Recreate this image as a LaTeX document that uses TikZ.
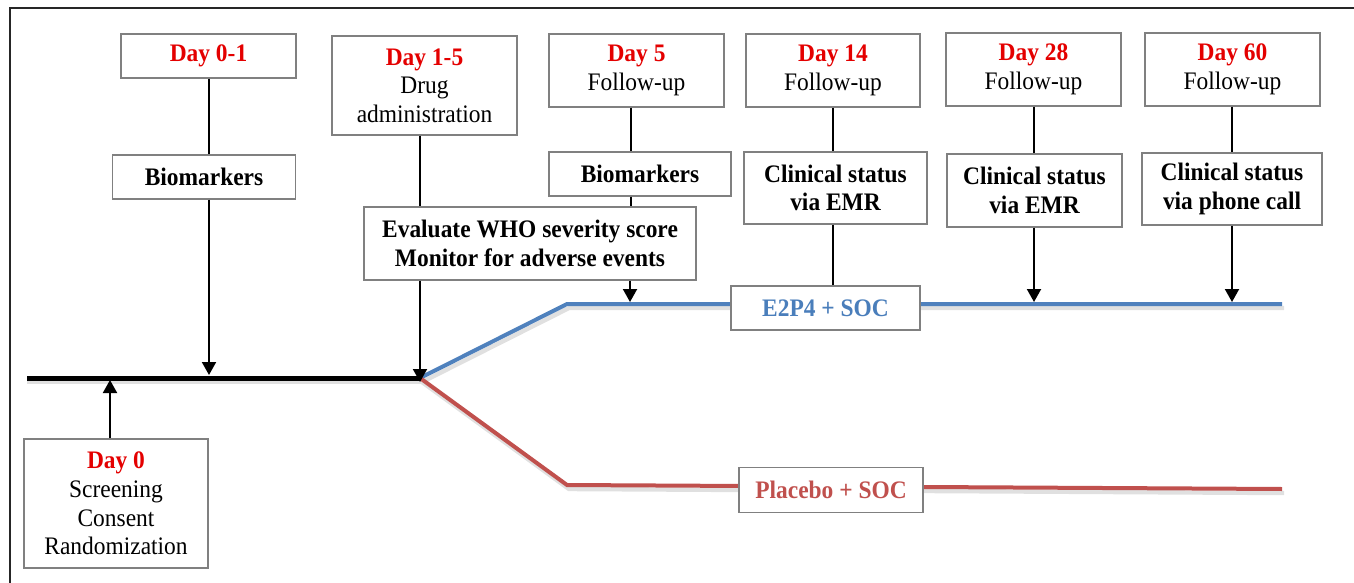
\documentclass[tikz,border=0pt]{standalone}
\usepackage{fontspec}
\setmainfont{Liberation Serif}[FakeStretch=0.93]
\usetikzlibrary{arrows.meta,backgrounds}
\definecolor{dayred}{RGB}{228,0,0}
\definecolor{armblue}{RGB}{79,129,189}
\definecolor{armbluetext}{RGB}{74,126,187}
\definecolor{armred}{RGB}{192,80,77}
\definecolor{boxgray}{RGB}{128,128,128}
\newcommand{\dayhead}[1]{\textcolor{dayred}{\bfseries #1}}
\begin{document}
\begin{tikzpicture}[x=0.5pt,y=-0.5pt,
  box/.style={draw=boxgray,line width=0.6pt,fill=white,inner sep=0pt,align=center,
    font=\fontsize{12.6}{14.3}\selectfont},
  bbox/.style={box,font=\fontsize{12.6}{14.3}\selectfont\bfseries},
  sz/.style args={#1x#2}{minimum width=#1*0.5pt,minimum height=#2*0.5pt},
  link/.style={line width=1pt,black},
  arr/.style={link,-{Triangle[width=7pt,length=6.5pt]}},
  timeline/.style={line width=2.5pt,black},
  arm/.style={line width=2pt,line join=miter},
  shadow/.style={line width=2.2pt,black!12}]
\useasboundingbox (0,0) rectangle (1354,583);

% outer frame
\draw[line width=1.1pt,black!85] (10,583) -- (10,8) -- (1354,8);

% time points and events
\node[box,sz=175x44]  (d01)  at (208.5,56)   {\dayhead{Day 0-1}};
\node[bbox,sz=183x44] (bio1) at (204,177)    {Biomarkers};
\node[box,sz=185x99]  (d15)  at (424.5,85.5) {\dayhead{Day 1-5}\\Drug\\administration};
\node[bbox,sz=332x73] (eval) at (530,243.5)  {Evaluate WHO severity score\\Monitor for adverse events};
\node[box,sz=175x73]  (d5)   at (636.5,70.5) {\dayhead{Day 5}\\Follow-up};
\node[bbox,sz=182x44] (bio2) at (640,174)    {Biomarkers};
\node[box,sz=174x73]  (d14)  at (833,70.5)   {\dayhead{Day 14}\\Follow-up};
\node[bbox,sz=183x72] (cs1)  at (835.5,188)  {Clinical status\\via EMR};
\node[box,sz=175x73]  (d28)  at (1033.5,69.5){\dayhead{Day 28}\\Follow-up};
\node[bbox,sz=175x73] (cs2)  at (1034.5,190.5){Clinical status\\via EMR};
\node[box,sz=175x73]  (d60)  at (1232.5,69.5){\dayhead{Day 60}\\Follow-up};
\node[bbox,sz=180x72] (cs3)  at (1232,189)   {Clinical status\\via phone call};
\node[box,sz=184x129] (d0)   at (116,503.5)  {\dayhead{Day 0}\\Screening\\Consent\\Randomization};

% treatment arms
\node[bbox,sz=189x44,text=armbluetext] (e2p4) at (825.5,308) {E2P4 + SOC};
\node[bbox,sz=184x45,text=armred]      (plac) at (831,490)   {Placebo + SOC};

% timeline points
\coordinate (t0)   at (27,378);
\coordinate (br)   at (420,378);
\coordinate (bk)   at (567,304);
\coordinate (bend) at (1282,304);
\coordinate (rk)   at (567,485);
\coordinate (rend) at (1282,489);

\begin{pgfonlayer}{background}
  \draw[shadow] ([shift={(2,4)}]br) -- ([shift={(2,4)}]bk) -- ([shift={(2,4)}]bend);
  \draw[shadow] ([shift={(2,4)}]br) -- ([shift={(2,4)}]rk) -- ([shift={(2,4)}]rend);
  \draw[shadow] ([shift={(0,4)}]t0) -- ([shift={(2,4)}]br);
  \draw[arm,armblue] (br) -- (bk) -- (bend);
  \draw[arm,armred]  (br) -- (rk) -- (rend);
  \draw[timeline] (t0) -- (br);
\end{pgfonlayer}

% connectors
\draw[link] (d01.south -| 209,0) -- (bio1.north -| 209,0);
\draw[arr]  (bio1.south -| 209,0) -- (209,375);
\draw[link] (d15.south -| br) -- (eval.north -| br);
\draw[arr]  (eval.south -| br) -- ([yshift=-2]br);
\draw[link] (d5.south -| 631,0) -- (bio2.north -| 631,0);
\draw[link] (bio2.south -| 631,0) -- (eval.north -| 631,0);
\draw[arr]  (eval.south -| 630,0) -- (630,302);
\draw[link] (d14.south -| 833,0) -- (cs1.north -| 833,0);
\draw[link] (cs1.south -| 833,0) -- (e2p4.north -| 833,0);
\draw[link] (d28.south -| 1034,0) -- (cs2.north -| 1034,0);
\draw[arr]  (cs2.south -| 1034,0) -- (1034,302);
\draw[link] (d60.south -| 1232,0) -- (cs3.north -| 1232,0);
\draw[arr]  (cs3.south -| 1232,0) -- (1232,302);
\draw[arr]  (d0.north -| 110,0) -- (110,380);
\end{tikzpicture}
\end{document}
